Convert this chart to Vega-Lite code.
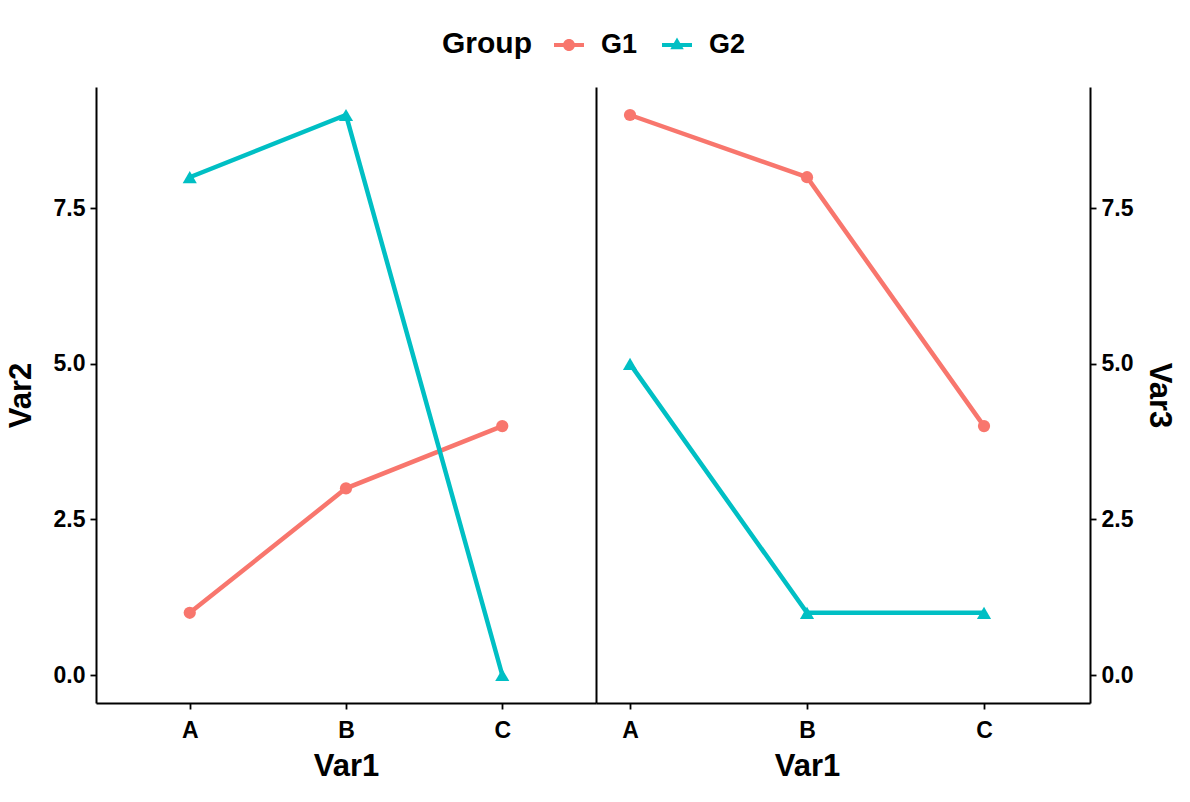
{
  "$schema": "https://vega.github.io/schema/vega-lite/v6.json",
  "background": "white",
  "padding": {"left": 5, "top": 30, "right": 5, "bottom": 5},
  "config": {
    "view": {"stroke": null},
    "font": "Liberation Sans",
    "axis": {
      "grid": false,
      "domainColor": "black",
      "domainWidth": 2,
      "tickColor": "black",
      "tickWidth": 1.8,
      "tickSize": 6,
      "labelColor": "black",
      "labelFont": "Liberation Sans",
      "labelFontWeight": "bold",
      "labelFontSize": 23,
      "labelPadding": 5,
      "titleColor": "black",
      "titleFont": "Liberation Sans",
      "titleFontWeight": "bold",
      "titleFontSize": 31
    },
    "legend": {
      "titleFont": "Liberation Sans",
      "titleFontWeight": "bold",
      "titleFontSize": 30,
      "titleColor": "black",
      "labelFont": "Liberation Sans",
      "labelFontWeight": "bold",
      "labelFontSize": 27,
      "labelColor": "black"
    }
  },
  "datasets": {
    "left": [
      {"Var1": "A", "Group": "G1", "Var2": 1},
      {"Var1": "B", "Group": "G1", "Var2": 3},
      {"Var1": "C", "Group": "G1", "Var2": 4},
      {"Var1": "A", "Group": "G2", "Var2": 8},
      {"Var1": "B", "Group": "G2", "Var2": 9},
      {"Var1": "C", "Group": "G2", "Var2": 0}
    ],
    "right": [
      {"Var1": "A", "Group": "G1", "Var3": 9},
      {"Var1": "B", "Group": "G1", "Var3": 8},
      {"Var1": "C", "Group": "G1", "Var3": 4},
      {"Var1": "A", "Group": "G2", "Var3": 5},
      {"Var1": "B", "Group": "G2", "Var3": 1},
      {"Var1": "C", "Group": "G2", "Var3": 1}
    ]
  },
  "spacing": 0,
  "hconcat": [
    {
      "width": 500,
      "height": 616,
      "data": {"name": "left"},
      "encoding": {
        "x": {"field": "Var1", "type": "ordinal", "scale": {"type": "point", "padding": 0.6}, "axis": {"labelAngle": 0, "title": "Var1", "labelPadding": 10, "titlePadding": 9}}
      },
      "layer": [
        {
          "mark": {"type": "line", "strokeWidth": 4.5},
          "encoding": {
            "y": {"field": "Var2", "type": "quantitative", "scale": {"domain": [-0.45, 9.45], "nice": false, "zero": false}, "axis": {"values": [0, 2.5, 5, 7.5], "format": ".1f", "title": "Var2", "titlePadding": 16}},
            "color": {"field": "Group", "type": "nominal", "scale": {"domain": ["G1", "G2"], "range": ["#F8766D", "#00BFC4"]},
              "legend": {
                "orient": "none",
                "legendX": 346,
                "legendY": -57,
                "direction": "horizontal",
                "titleOrient": "left",
                "title": "Group",
                "symbolSize": 900,
                "symbolStrokeWidth": 0,
                "labelOffset": 17,
                "titlePadding": 22,
                "columnPadding": 24,
                "encode": {
                  "symbols": {
                    "update": {
                      "shape": {"signal": "datum.value === 'G1' ? 'M-1,-0.13H1V0.13H-1Z M-0.4,0A0.4,0.4 0 1,1 0.4,0A0.4,0.4 0 1,1 -0.4,0Z' : 'M-1,-0.13H1V0.13H-1Z M0,-0.5L0.45,0.28H-0.45Z'"},
                      "fill": {"signal": "datum.value === 'G1' ? '#F8766D' : '#00BFC4'"},
                      "stroke": {"value": "transparent"},
                      "strokeWidth": {"value": 0},
                      "opacity": {"value": 1}
                    }
                  }
                }
              }
            }
          }
        },
        {
          "transform": [{"filter": "datum.Group === 'G1'"}],
          "mark": {"type": "point", "filled": true, "opacity": 1, "shape": "circle", "size": 150, "color": "#F8766D"},
          "encoding": {
            "y": {"field": "Var2", "type": "quantitative", "scale": {"domain": [-0.45, 9.45], "nice": false, "zero": false}, "axis": null}
          }
        },
        {
          "transform": [{"filter": "datum.Group === 'G2'"}],
          "mark": {"type": "point", "filled": true, "opacity": 1, "shape": "triangle-up", "size": 200, "color": "#00BFC4"},
          "encoding": {
            "y": {"field": "Var2", "type": "quantitative", "scale": {"domain": [-0.45, 9.45], "nice": false, "zero": false}, "axis": null}
          }
        },
        {
          "mark": {"type": "point", "opacity": 0},
          "encoding": {
            "y": {"field": "Var2", "type": "quantitative", "scale": {"domain": [-0.45, 9.45], "nice": false, "zero": false}, "axis": {"orient": "right", "labels": false, "ticks": false, "title": null, "values": [0]}}
          }
        }
      ],
      "resolve": {"scale": {"y": "independent"}, "axis": {"y": "independent"}}
    },
    {
      "width": 494,
      "height": 616,
      "data": {"name": "right"},
      "encoding": {
        "x": {"field": "Var1", "type": "ordinal", "scale": {"type": "point", "padding": 0.3955, "align": 0.243}, "axis": {"labelAngle": 0, "title": "Var1", "labelPadding": 10, "titlePadding": 9, "titleX": 211}},
        "y": {"field": "Var3", "type": "quantitative", "scale": {"domain": [-0.45, 9.45], "nice": false, "zero": false}, "axis": {"orient": "right", "values": [0, 2.5, 5, 7.5], "format": ".1f", "title": "Var3", "titleAngle": 90, "titlePadding": 10}}
      },
      "layer": [
        {
          "mark": {"type": "line", "strokeWidth": 4.5},
          "encoding": {
            "color": {"field": "Group", "type": "nominal", "scale": {"domain": ["G1", "G2"], "range": ["#F8766D", "#00BFC4"]}}
          }
        },
        {
          "transform": [{"filter": "datum.Group === 'G1'"}],
          "mark": {"type": "point", "filled": true, "opacity": 1, "shape": "circle", "size": 150, "color": "#F8766D"}
        },
        {
          "transform": [{"filter": "datum.Group === 'G2'"}],
          "mark": {"type": "point", "filled": true, "opacity": 1, "shape": "triangle-up", "size": 200, "color": "#00BFC4"}
        }
      ]
    }
  ]
}
